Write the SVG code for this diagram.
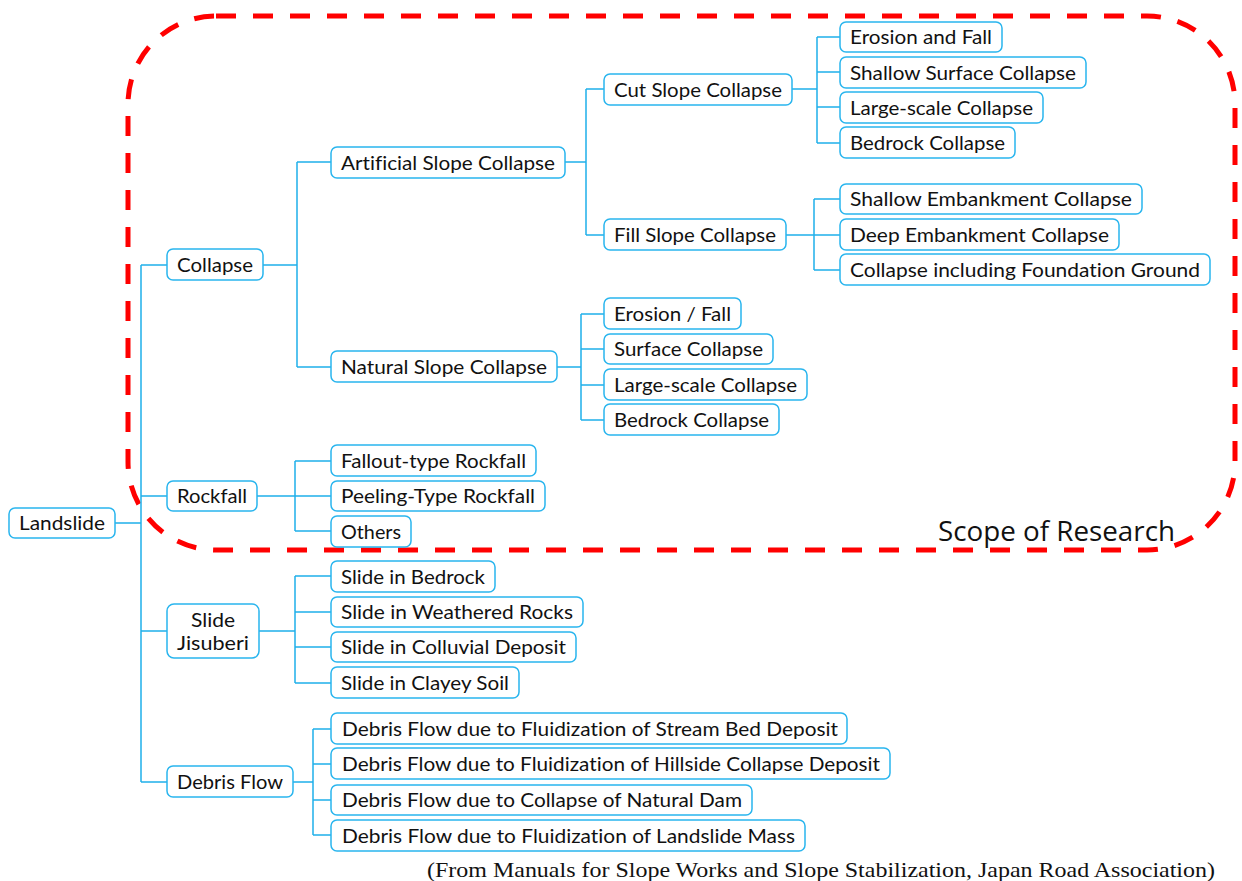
<svg xmlns="http://www.w3.org/2000/svg" width="1242" height="881" viewBox="0 0 1242 881">
  <style>
    .box { fill: #ffffff; stroke: #29b5ee; stroke-width: 1.5; }
    .lbl { font-family: Lato, "Open Sans", sans-serif; font-size: 20px; fill: #111111; dominant-baseline: central; font-variant-ligatures: none; transform: translateY(-1px); }
    .wire { fill: none; stroke: #1fb0ea; stroke-width: 1.5; }
    .scope { fill: none; stroke: #ff0000; stroke-width: 5; stroke-dasharray: 20 17; }
  </style>

  <!-- scope boundary -->
  <rect class="scope" x="128" y="16" width="1107" height="534" rx="88" ry="88"/>
  <text x="938" y="530" style="font-family:'Open Sans','DejaVu Sans',sans-serif;font-size:27px;fill:#111;dominant-baseline:central" textLength="237" lengthAdjust="spacingAndGlyphs">Scope of Research</text>

  <!-- connectors -->
  <g id="connectors" class="wire">
    <path d="M115 523 H141 M141 265 V782 M141 265 H167 M141 496 H167 M141 631 H167 M141 782 H167"/>
    <path d="M263 265 H297 M297 162 V367 M297 162 H331 M297 367 H331"/>
    <path d="M565 162 H586 M586 89 V235 M586 89 H604 M586 235 H604"/>
    <path d="M792 89 H817 M817 37 V143 M817 37 H840 M817 72 H840 M817 107 H840 M817 143 H840"/>
    <path d="M786 235 H814 M814 199 V270 M814 199 H840 M814 235 H840 M814 270 H840"/>
    <path d="M557 367 H581 M581 314 V420 M581 314 H604 M581 349 H604 M581 385 H604 M581 420 H604"/>
    <path d="M257 496 H295 M295 461 V531 M295 461 H331 M295 496 H331 M295 531 H331"/>
    <path d="M259 631 H295 M295 576 V683 M295 576 H331 M295 612 H331 M295 647 H331 M295 683 H331"/>
    <path d="M293 782 H313 M313 729 V835 M313 729 H331 M313 764 H331 M313 800 H331 M313 835 H331"/>
  </g>

  <!-- root -->
  <g id="n-landslide"><rect class="box" x="9" y="508" width="106" height="30" rx="6"/><text class="lbl" x="19" y="523" textLength="86" lengthAdjust="spacingAndGlyphs">Landslide</text></g>

  <!-- level 1 -->
  <g id="n-collapse"><rect class="box" x="167" y="249" width="96" height="31" rx="6"/><text class="lbl" x="177" y="265" textLength="76" lengthAdjust="spacingAndGlyphs">Collapse</text></g>
  <g id="n-rockfall"><rect class="box" x="167" y="481" width="90" height="30" rx="6"/><text class="lbl" x="177" y="496" textLength="70" lengthAdjust="spacingAndGlyphs">Rockfall</text></g>
  <g id="n-slide"><rect class="box" x="167" y="604" width="92" height="54" rx="7"/>
    <text class="lbl" x="213" y="620" text-anchor="middle" textLength="44" lengthAdjust="spacingAndGlyphs">Slide</text>
    <text class="lbl" x="213" y="643" text-anchor="middle" textLength="72" lengthAdjust="spacingAndGlyphs">Jisuberi</text></g>
  <g id="n-debris"><rect class="box" x="167" y="766" width="126" height="31" rx="6"/><text class="lbl" x="177" y="782" textLength="106" lengthAdjust="spacingAndGlyphs">Debris Flow</text></g>

  <!-- collapse branch -->
  <g id="n-artificial"><rect class="box" x="331" y="147" width="234" height="31" rx="6"/><text class="lbl" x="341" y="163" textLength="214" lengthAdjust="spacingAndGlyphs">Artificial Slope Collapse</text></g>
  <g id="n-natural"><rect class="box" x="331" y="351" width="226" height="31" rx="6"/><text class="lbl" x="341" y="367" textLength="206" lengthAdjust="spacingAndGlyphs">Natural Slope Collapse</text></g>
  <g id="n-cut"><rect class="box" x="604" y="74" width="188" height="31" rx="6"/><text class="lbl" x="614" y="90" textLength="168" lengthAdjust="spacingAndGlyphs">Cut Slope Collapse</text></g>
  <g id="n-fill"><rect class="box" x="604" y="219" width="182" height="31" rx="6"/><text class="lbl" x="614" y="235" textLength="162" lengthAdjust="spacingAndGlyphs">Fill Slope Collapse</text></g>

  <g id="n-cut-erosion"><rect class="box" x="840" y="22" width="162" height="30" rx="6"/><text class="lbl" x="850" y="37" textLength="142" lengthAdjust="spacingAndGlyphs">Erosion and Fall</text></g>
  <g id="n-cut-shallow"><rect class="box" x="840" y="57" width="246" height="31" rx="6"/><text class="lbl" x="850" y="73" textLength="226" lengthAdjust="spacingAndGlyphs">Shallow Surface Collapse</text></g>
  <g id="n-cut-large"><rect class="box" x="840" y="92" width="203" height="31" rx="6"/><text class="lbl" x="850" y="108" textLength="183" lengthAdjust="spacingAndGlyphs">Large-scale Collapse</text></g>
  <g id="n-cut-bedrock"><rect class="box" x="840" y="127" width="175" height="31" rx="6"/><text class="lbl" x="850" y="143" textLength="155" lengthAdjust="spacingAndGlyphs">Bedrock Collapse</text></g>

  <g id="n-fill-shallow"><rect class="box" x="840" y="184" width="302" height="30" rx="6"/><text class="lbl" x="850" y="199" textLength="282" lengthAdjust="spacingAndGlyphs">Shallow Embankment Collapse</text></g>
  <g id="n-fill-deep"><rect class="box" x="840" y="219" width="279" height="31" rx="6"/><text class="lbl" x="850" y="235" textLength="259" lengthAdjust="spacingAndGlyphs">Deep Embankment Collapse</text></g>
  <g id="n-fill-foundation"><rect class="box" x="840" y="254" width="370" height="31" rx="6"/><text class="lbl" x="850" y="270" textLength="350" lengthAdjust="spacingAndGlyphs">Collapse including Foundation Ground</text></g>

  <g id="n-nat-erosion"><rect class="box" x="604" y="298" width="137" height="31" rx="6"/><text class="lbl" x="614" y="314" textLength="117" lengthAdjust="spacingAndGlyphs">Erosion / Fall</text></g>
  <g id="n-nat-surface"><rect class="box" x="604" y="334" width="169" height="30" rx="6"/><text class="lbl" x="614" y="349" textLength="149" lengthAdjust="spacingAndGlyphs">Surface Collapse</text></g>
  <g id="n-nat-large"><rect class="box" x="604" y="369" width="203" height="31" rx="6"/><text class="lbl" x="614" y="385" textLength="183" lengthAdjust="spacingAndGlyphs">Large-scale Collapse</text></g>
  <g id="n-nat-bedrock"><rect class="box" x="604" y="404" width="175" height="31" rx="6"/><text class="lbl" x="614" y="420" textLength="155" lengthAdjust="spacingAndGlyphs">Bedrock Collapse</text></g>

  <!-- rockfall branch -->
  <g id="n-fallout"><rect class="box" x="331" y="445" width="205" height="31" rx="6"/><text class="lbl" x="341" y="461" textLength="185" lengthAdjust="spacingAndGlyphs">Fallout-type Rockfall</text></g>
  <g id="n-peeling"><rect class="box" x="331" y="481" width="214" height="30" rx="6"/><text class="lbl" x="341" y="496" textLength="194" lengthAdjust="spacingAndGlyphs">Peeling-Type Rockfall</text></g>
  <g id="n-others"><rect class="box" x="331" y="516" width="80" height="31" rx="6"/><text class="lbl" x="341" y="532" textLength="60" lengthAdjust="spacingAndGlyphs">Others</text></g>

  <!-- slide branch -->
  <g id="n-slide-bedrock"><rect class="box" x="331" y="561" width="164" height="31" rx="6"/><text class="lbl" x="341" y="577" textLength="144" lengthAdjust="spacingAndGlyphs">Slide in Bedrock</text></g>
  <g id="n-slide-weathered"><rect class="box" x="331" y="597" width="252" height="30" rx="6"/><text class="lbl" x="341" y="612" textLength="232" lengthAdjust="spacingAndGlyphs">Slide in Weathered Rocks</text></g>
  <g id="n-slide-colluvial"><rect class="box" x="331" y="632" width="245" height="30" rx="6"/><text class="lbl" x="341" y="647" textLength="225" lengthAdjust="spacingAndGlyphs">Slide in Colluvial Deposit</text></g>
  <g id="n-slide-clayey"><rect class="box" x="331" y="667" width="188" height="31" rx="6"/><text class="lbl" x="341" y="683" textLength="168" lengthAdjust="spacingAndGlyphs">Slide in Clayey Soil</text></g>

  <!-- debris flow branch -->
  <g id="n-df-stream"><rect class="box" x="331" y="713" width="516" height="31" rx="6"/><text class="lbl" x="342" y="729" textLength="496" lengthAdjust="spacingAndGlyphs">Debris Flow due to Fluidization of Stream Bed Deposit</text></g>
  <g id="n-df-hillside"><rect class="box" x="331" y="748" width="559" height="31" rx="6"/><text class="lbl" x="342" y="764" textLength="538" lengthAdjust="spacingAndGlyphs">Debris Flow due to Fluidization of Hillside Collapse Deposit</text></g>
  <g id="n-df-dam"><rect class="box" x="331" y="785" width="421" height="30" rx="6"/><text class="lbl" x="342" y="800" textLength="400" lengthAdjust="spacingAndGlyphs">Debris Flow due to Collapse of Natural Dam</text></g>
  <g id="n-df-mass"><rect class="box" x="331" y="820" width="474" height="31" rx="6"/><text class="lbl" x="342" y="836" textLength="453" lengthAdjust="spacingAndGlyphs">Debris Flow due to Fluidization of Landslide Mass</text></g>

  <!-- source note -->
  <text x="427" y="877" style="font-family:'Liberation Serif',serif;font-size:21px;fill:#111" textLength="788" lengthAdjust="spacingAndGlyphs">(From Manuals for Slope Works and Slope Stabilization, Japan Road Association)</text>
</svg>
